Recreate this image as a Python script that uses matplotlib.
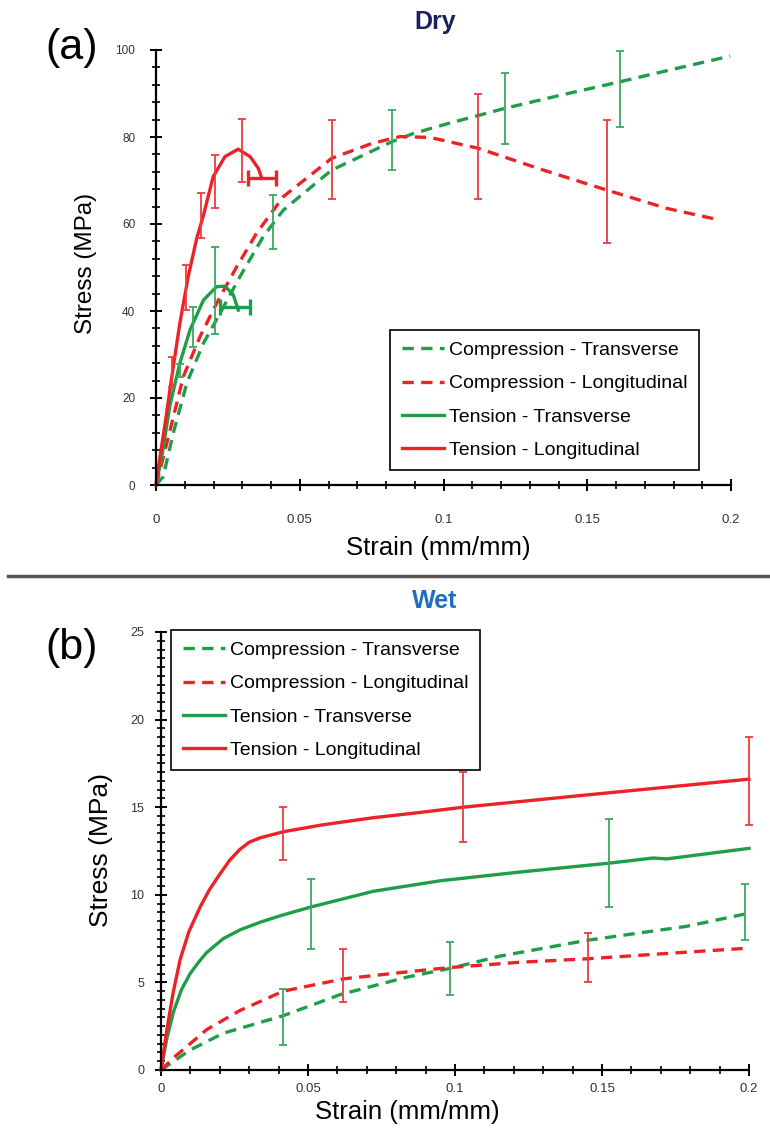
import matplotlib
matplotlib.use('Agg')
import matplotlib.pyplot as plt
from matplotlib.lines import Line2D
from matplotlib.ticker import MultipleLocator, FuncFormatter

plt.rcParams['font.family'] = ['Liberation Sans', 'DejaVu Sans']

# ---- data (a) Dry ----
dry_ct_x = [0, 0.0025, 0.006, 0.0107, 0.0165, 0.0223, 0.0292, 0.0373, 0.0443, 0.0611, 0.082, 0.0895, 0.1, 0.1214, 0.14, 0.1614, 0.18, 0.1997]
dry_ct_y = [0, 1.9, 11.9, 23.4, 32.6, 39.5, 47.9, 57.1, 63.2, 72.4, 78.9, 80.8, 82.8, 86.6, 89.5, 92.7, 95.6, 98.6]
dry_cl_x = [0, 0.0014, 0.0049, 0.0095, 0.0153, 0.0211, 0.0281, 0.035, 0.0443, 0.0611, 0.075, 0.0849, 0.0953, 0.1121, 0.1347, 0.1568, 0.1776, 0.1962]
dry_cl_y = [0, 3.4, 12.6, 24.9, 34.1, 41.8, 50.2, 57.9, 66.3, 75.1, 78.5, 80.1, 79.9, 77.4, 72.4, 67.8, 63.6, 60.9]
dry_tt_x = [0, 0.002, 0.0031, 0.0049, 0.0083, 0.0118, 0.0165, 0.0211, 0.024, 0.0269, 0.0286]
dry_tt_y = [0, 6.5, 11.1, 18.5, 28.0, 35.6, 42.5, 45.6, 45.7, 43.7, 40.2]
dry_tl_x = [0, 0.0014, 0.0031, 0.0055, 0.0083, 0.0112, 0.0141, 0.0165, 0.0199, 0.024, 0.0286, 0.0327, 0.0356, 0.0368]
dry_tl_y = [0, 6.5, 13.8, 24.9, 37.2, 47.9, 56.5, 62.0, 70.9, 75.5, 77.2, 75.5, 72.8, 70.5]

# error bars (dry)
dry_ct_eb_x = [0.0408, 0.082, 0.1214, 0.1614]
dry_ct_eb_y = [60.5, 79.3, 86.5, 91.1]
dry_ct_eb_e = [6.2, 6.9, 8.1, 8.7]
dry_cl_eb_x = [0.0611, 0.1121, 0.1568]
dry_cl_eb_y = [74.8, 77.8, 69.7]
dry_cl_eb_e = [9.1, 12.1, 14.1]
dry_tt_eb_x = [0.0083, 0.013, 0.0205]
dry_tt_eb_y = [26.4, 36.4, 44.8]
dry_tt_eb_e = [1.5, 4.6, 10.0]
dry_tl_eb_x = [0.0055, 0.0104, 0.0155, 0.0205, 0.0298]
dry_tl_eb_y = [26.0, 45.4, 61.9, 69.7, 76.9]
dry_tl_eb_e = [3.5, 5.2, 5.2, 6.1, 7.2]
# failure strain (horizontal bars)
dry_tt_fail = (0.0275, 41.0, 0.0052)
dry_tl_fail = (0.037, 70.5, 0.0049)

# ---- data (b) Wet ----
wet_ct_x = [0, 0.0099, 0.0212, 0.0416, 0.0609, 0.0836, 0.0983, 0.1153, 0.1448, 0.1788, 0.2]
wet_ct_y = [0, 1.14, 2.1, 3.1, 4.3, 5.3, 5.8, 6.5, 7.4, 8.2, 8.95]
wet_cl_x = [0, 0.005, 0.0155, 0.0269, 0.0416, 0.062, 0.0836, 0.0983, 0.1221, 0.1453, 0.1674, 0.1992]
wet_cl_y = [0, 0.8, 2.3, 3.4, 4.5, 5.2, 5.6, 5.85, 6.15, 6.35, 6.6, 6.95]
wet_tt_x = [0, 0.002, 0.0042, 0.007, 0.0099, 0.013, 0.0155, 0.0212, 0.0269, 0.034, 0.0405, 0.0509, 0.0722, 0.0949, 0.1221, 0.1521, 0.1674, 0.172, 0.2]
wet_tt_y = [0, 1.8, 3.3, 4.6, 5.5, 6.2, 6.7, 7.5, 8.0, 8.45, 8.8, 9.3, 10.2, 10.8, 11.3, 11.8, 12.1, 12.05, 12.65]
wet_tl_x = [0, 0.002, 0.004, 0.0065, 0.0095, 0.0133, 0.0165, 0.0201, 0.0235, 0.0269, 0.03, 0.0337, 0.0416, 0.0552, 0.0722, 0.0881, 0.1028, 0.1448, 0.2]
wet_tl_y = [0, 2.3, 4.3, 6.3, 7.9, 9.3, 10.3, 11.2, 12.0, 12.6, 13.0, 13.25, 13.6, 14.0, 14.4, 14.7, 15.0, 15.7, 16.6]

wet_ct_eb_x = [0.0414, 0.0983, 0.1986]
wet_ct_eb_y = [3.0, 5.8, 9.0]
wet_ct_eb_e = [1.6, 1.5, 1.6]
wet_cl_eb_x = [0.0618, 0.1453]
wet_cl_eb_y = [5.4, 6.4]
wet_cl_eb_e = [1.5, 1.4]
wet_tt_eb_x = [0.0509, 0.1525]
wet_tt_eb_y = [8.9, 11.8]
wet_tt_eb_e = [2.0, 2.5]
wet_tl_eb_x = [0.0414, 0.1026, 0.2]
wet_tl_eb_y = [13.5, 15.0, 16.5]
wet_tl_eb_e = [1.5, 2.0, 2.5]

labels = ['Compression - Transverse', 'Compression - Longitudinal',
          'Tension - Transverse', 'Tension - Longitudinal']

GREEN = '#1e9e4a'
RED = '#ec2227'
GREEN_EB = '#3aa860'
RED_EB = '#ee3b3f'
DASH = (0, (3.4, 2.2))
LW = 2.4

W, H = 770, 1133
fig = plt.figure(figsize=(W / 100, H / 100), dpi=100)
ax1 = fig.add_axes([156 / W, 1 - 485 / H, 575 / W, 435 / H])
ax2 = fig.add_axes([161 / W, 1 - 1070 / H, 588 / W, 438 / H])


def style(ax, ymax, ymaj, ymin, ysize, xpad, ypad):
    for s in ['top', 'right']:
        ax.spines[s].set_visible(False)
    for s in ['left', 'bottom']:
        ax.spines[s].set_linewidth(1.6)
    ax.set_xlim(0, 0.2)
    ax.set_ylim(0, ymax)
    ax.xaxis.set_major_locator(MultipleLocator(0.05))
    ax.xaxis.set_minor_locator(MultipleLocator(0.01))
    ax.yaxis.set_major_locator(MultipleLocator(ymaj))
    ax.yaxis.set_minor_locator(MultipleLocator(ymin))
    ax.xaxis.set_major_formatter(FuncFormatter(lambda v, p: '%g' % v))
    ax.tick_params(which='major', direction='inout', length=8, width=1.4, colors='black')
    ax.tick_params(which='minor', direction='inout', length=6, width=1.2)
    ax.tick_params(axis='x', labelsize=9.5, pad=xpad, labelcolor='#333333')
    ax.tick_params(axis='y', labelsize=ysize, pad=ypad, labelcolor='#333333')


def draw(ax, d):
    (ctx, cty, clx, cly, ttx, tty, tlx, tly) = d
    ax.plot(ctx, cty, color=GREEN, lw=LW, ls=DASH, label=labels[0], clip_on=False)
    ax.plot(clx, cly, color=RED, lw=LW, ls=DASH, label=labels[1], clip_on=False)
    ax.plot(ttx, tty, color=GREEN, lw=LW, label=labels[2], clip_on=False)
    ax.plot(tlx, tly, color=RED, lw=LW, label=labels[3], clip_on=False)


def bars(ax, x, y, e, c):
    ax.errorbar(x, y, yerr=e, fmt='none', ecolor=c, elinewidth=1.3,
                capsize=3, capthick=1.3, clip_on=False)


style(ax1, 100, 20, 4, 8.5, 17, 11)
draw(ax1, (dry_ct_x, dry_ct_y, dry_cl_x, dry_cl_y, dry_tt_x, dry_tt_y, dry_tl_x, dry_tl_y))
bars(ax1, dry_ct_eb_x, dry_ct_eb_y, dry_ct_eb_e, GREEN_EB)
bars(ax1, dry_cl_eb_x, dry_cl_eb_y, dry_cl_eb_e, RED_EB)
bars(ax1, dry_tt_eb_x, dry_tt_eb_y, dry_tt_eb_e, GREEN_EB)
bars(ax1, dry_tl_eb_x, dry_tl_eb_y, dry_tl_eb_e, RED_EB)
for (fx, fy, fe), c in [(dry_tt_fail, GREEN), (dry_tl_fail, RED)]:
    ax1.errorbar([fx], [fy], xerr=[fe], fmt='none', ecolor=c, elinewidth=2.4,
                 capsize=6, capthick=2.4)

style(ax2, 25, 5, 0.5, 9, 5, 8)
draw(ax2, (wet_ct_x, wet_ct_y, wet_cl_x, wet_cl_y, wet_tt_x, wet_tt_y, wet_tl_x, wet_tl_y))
bars(ax2, wet_ct_eb_x, wet_ct_eb_y, wet_ct_eb_e, GREEN_EB)
bars(ax2, wet_cl_eb_x, wet_cl_eb_y, wet_cl_eb_e, RED_EB)
bars(ax2, wet_tt_eb_x, wet_tt_eb_y, wet_tt_eb_e, GREEN_EB)
bars(ax2, wet_tl_eb_x, wet_tl_eb_y, wet_tl_eb_e, RED_EB)

for ax, (lx, ly) in [(ax1, (390, 330)), (ax2, (171, 630))]:
    leg = ax.legend(loc='upper left', bbox_to_anchor=(lx / W, 1 - ly / H),
                    bbox_transform=fig.transFigure, fancybox=False, framealpha=1,
                    edgecolor='black', fontsize=14, handlelength=2.2,
                    handletextpad=0.25, labelspacing=0.8, borderpad=0.6,
                    borderaxespad=0)
    leg.get_frame().set_linewidth(1.2)
    leg.set_zorder(10)

# labels and titles
fig.text(435 / W, 1 - 22 / H, 'Dry', fontsize=18, fontweight='bold', color='#1b2060', ha='center', va='center')
fig.text(435 / W, 1 - 601 / H, 'Wet', fontsize=18, fontweight='bold', color='#1f6ec0', ha='center', va='center')
fig.text(72 / W, 1 - 48 / H, '(a)', fontsize=31, ha='center', va='center')
fig.text(72 / W, 1 - 648 / H, '(b)', fontsize=31, ha='center', va='center')
fig.text(86 / W, 1 - 263 / H, 'Stress (MPa)', fontsize=17.5, rotation=90, ha='center', va='center')
fig.text(101 / W, 1 - 850 / H, 'Stress (MPa)', fontsize=19, rotation=90, ha='center', va='center')
fig.text(438 / W, 1 - 548 / H, 'Strain (mm/mm)', fontsize=18.5, ha='center', va='center')
fig.text(407 / W, 1 - 1112 / H, 'Strain (mm/mm)', fontsize=18.5, ha='center', va='center')

fig.add_artist(Line2D([8 / W, 1], [1 - 576 / H, 1 - 576 / H], color='#555555', lw=2.5,
                      transform=fig.transFigure))

fig.savefig('out.png', dpi=100)
